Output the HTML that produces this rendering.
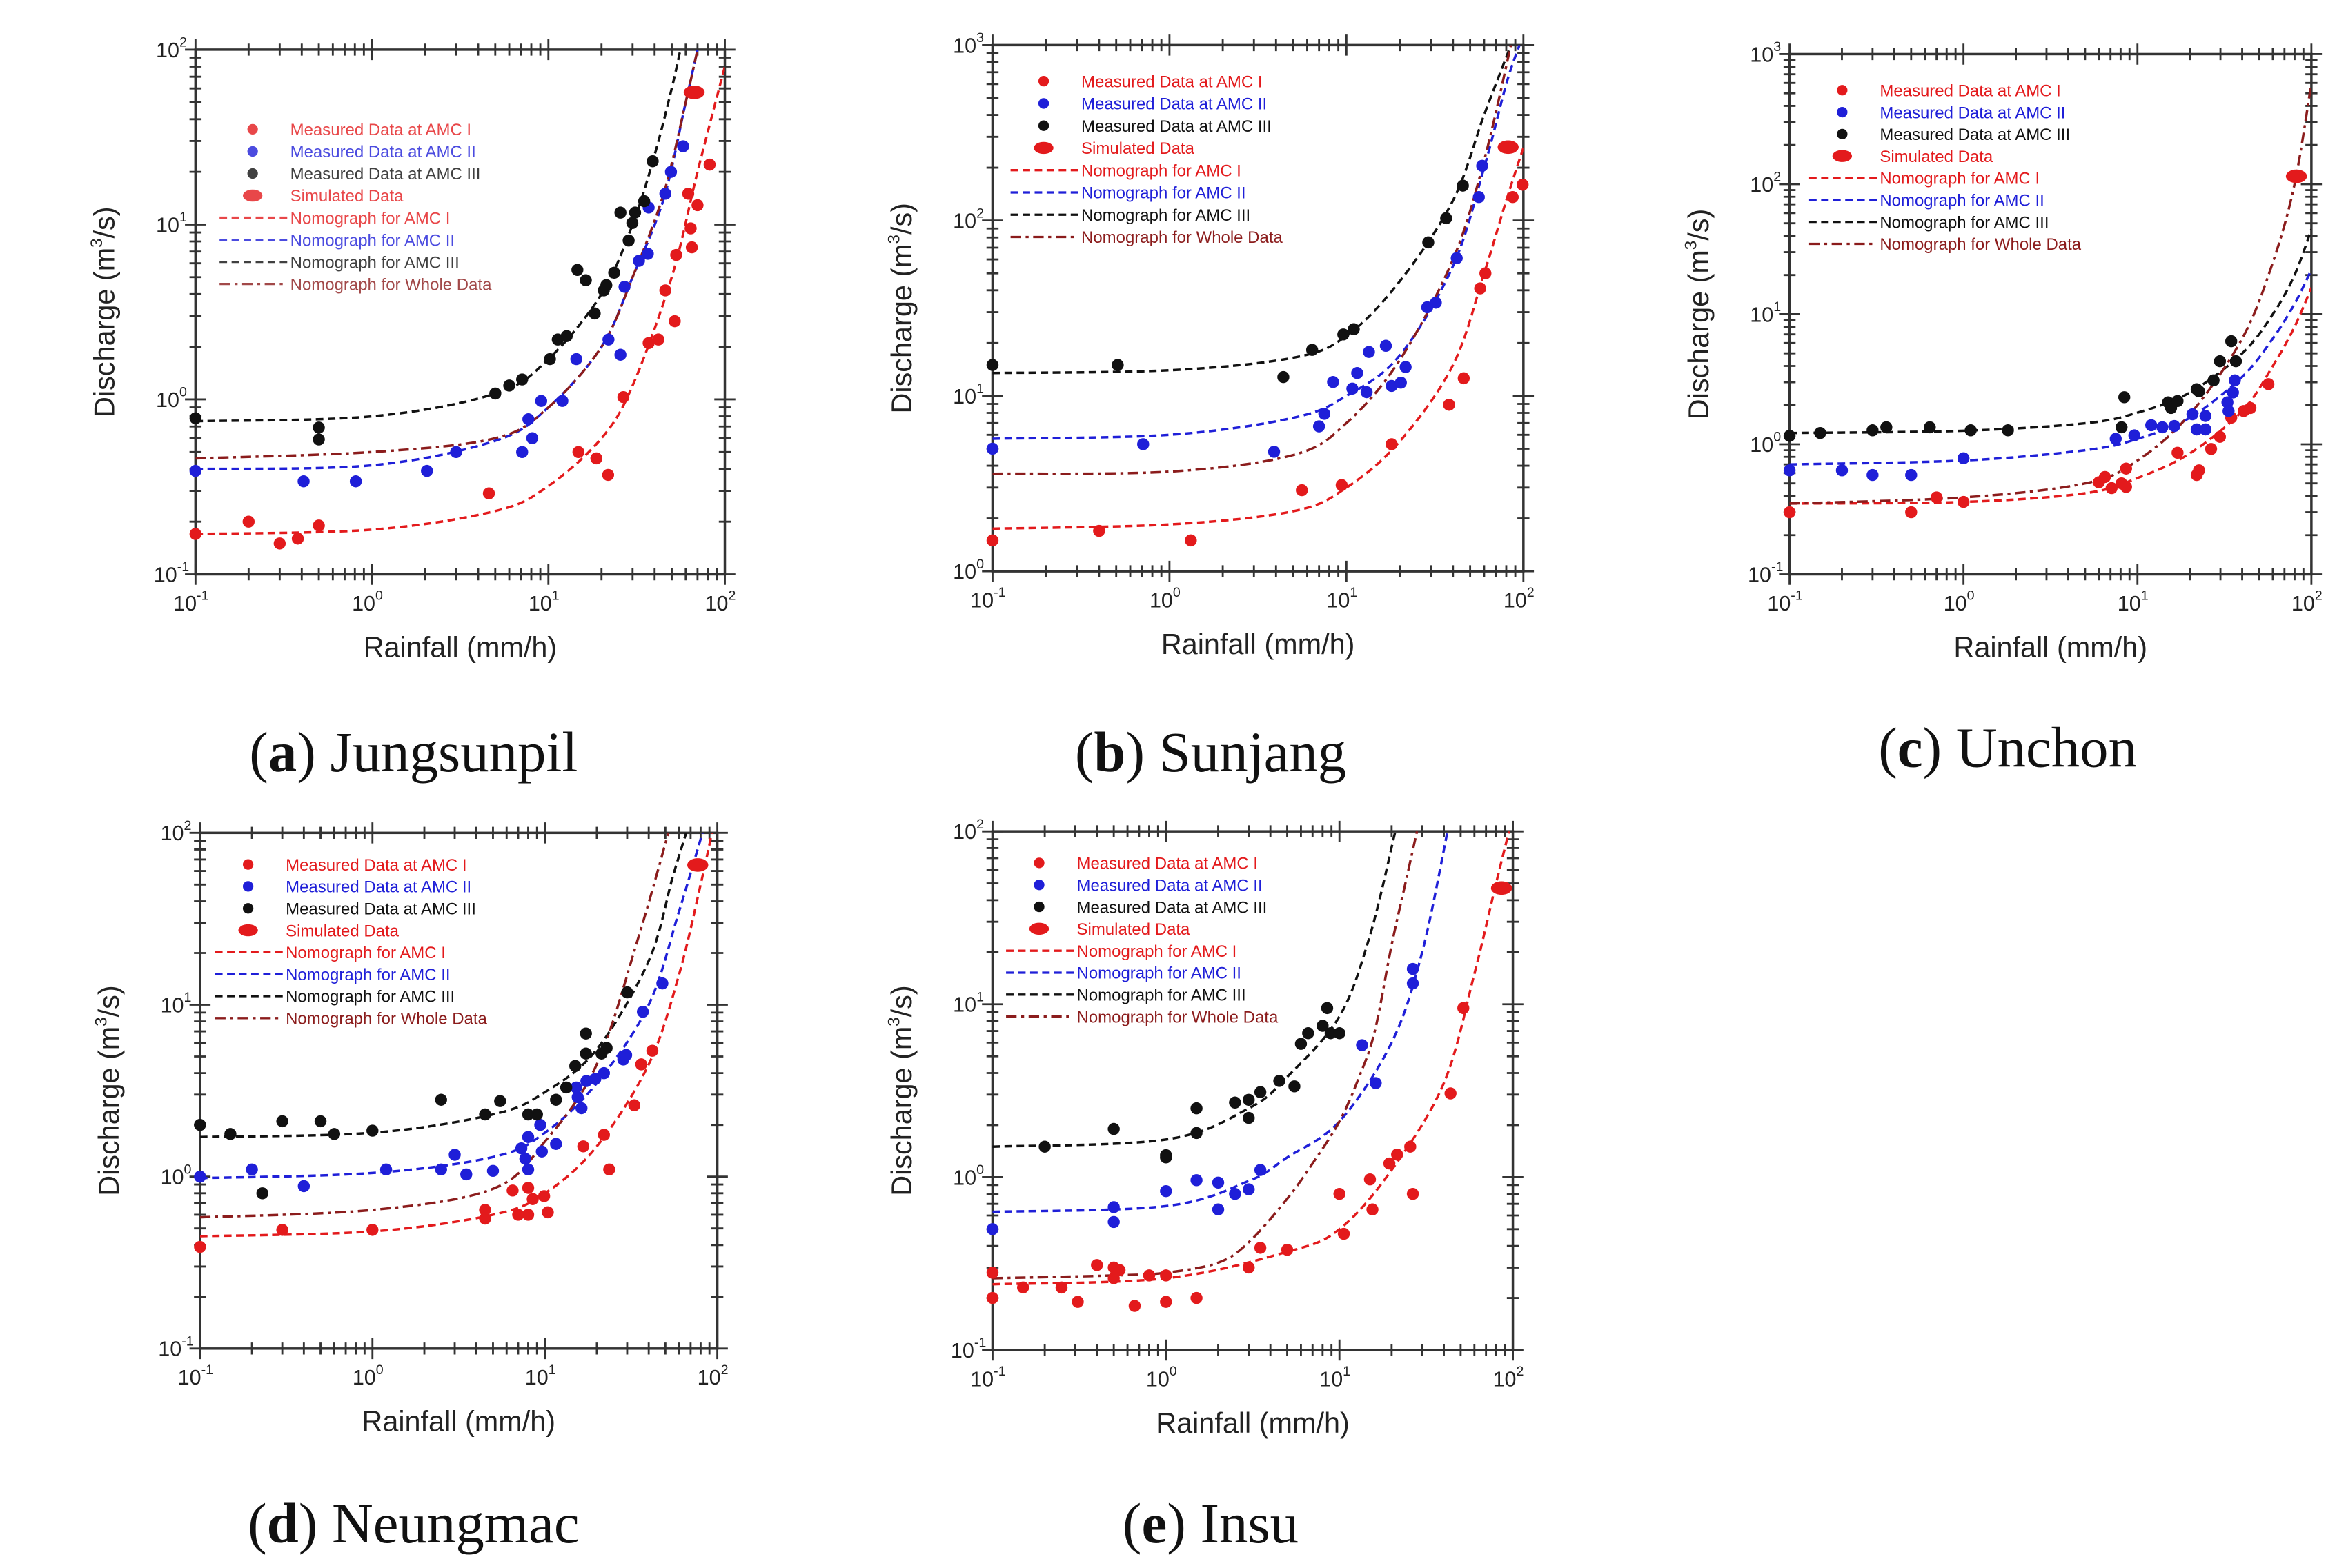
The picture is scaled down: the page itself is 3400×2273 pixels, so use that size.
<!DOCTYPE html>
<html><head><meta charset="utf-8"><style>
html,body{margin:0;padding:0;background:#fff;}
svg{display:block;}
text{font-family:"Liberation Sans",sans-serif;}
.cap{font-family:"Liberation Serif",serif;font-size:38px;fill:#111;}
</style></head><body>
<svg id="fig" xmlns="http://www.w3.org/2000/svg" width="3400" height="2273" viewBox="0 0 1560 1043" preserveAspectRatio="none">
<rect x="0" y="0" width="1560" height="1043" fill="#fff"/>
<text class="cap" x="275" y="513" text-anchor="middle">(<tspan font-weight="bold">a</tspan>) Jungsunpil</text>
<text class="cap" x="805" y="513" text-anchor="middle">(<tspan font-weight="bold">b</tspan>) Sunjang</text>
<text class="cap" x="1335" y="510" text-anchor="middle">(<tspan font-weight="bold">c</tspan>) Unchon</text>
<text class="cap" x="275" y="1026" text-anchor="middle">(<tspan font-weight="bold">d</tspan>) Neungmac</text>
<text class="cap" x="805" y="1026" text-anchor="middle">(<tspan font-weight="bold">e</tspan>) Insu</text>
</svg>
<script>
// ---------- data (rainfall mm/h, discharge m3/s) ----------
const legendLabels = ["Measured Data at AMC I","Measured Data at AMC II","Measured Data at AMC III","Simulated Data","Nomograph for AMC I","Nomograph for AMC II","Nomograph for AMC III","Nomograph for Whole Data"];

const aAmc1 = [[0.1,0.17],[0.2,0.2],[0.3,0.15],[0.38,0.16],[0.5,0.19],[4.6,0.29],[14.8,0.5],[18.7,0.46],[21.8,0.37],[26.6,1.03],[37,2.1],[42,2.2],[46,4.2],[52,2.8],[53,6.7],[62,15],[64,9.5],[65,7.4],[70,12.9],[82,22]];
const aAmc2 = [[0.1,0.39],[0.41,0.34],[0.81,0.34],[2.05,0.39],[3.0,0.5],[7.1,0.5],[8.1,0.6],[7.7,0.77],[9.1,0.98],[12,0.98],[14.4,1.7],[21.9,2.2],[25.6,1.8],[27,4.4],[32.6,6.2],[36.6,6.8],[37,12.5],[46,15],[49.5,20],[58,28]];
const aAmc3 = [[0.1,0.78],[0.5,0.69],[0.5,0.59],[5,1.08],[6,1.2],[7.1,1.3],[10.2,1.7],[11.3,2.2],[12.7,2.3],[14.6,5.5],[16.3,4.8],[18.3,3.1],[20.6,4.2],[21.3,4.5],[23.6,5.3],[25.6,11.7],[29.9,10.2],[31,11.7],[34.9,13.6],[39,23],[28.5,8.1]];
const aSim = [[67,57]];
const aNomo1 = [[0.1,0.17],[1,0.18],[5,0.23],[10,0.32],[20,0.6],[30,1.2],[50,5],[70,20],[100,80]];
const aNomo2 = [[0.1,0.40],[1,0.42],[5,0.58],[10,0.9],[20,2],[30,5],[45,14],[60,50],[70,100]];
const aNomo3 = [[0.1,0.75],[1,0.8],[5,1.08],[10,1.7],[20,4],[30,10],[40,25],[50,60],[56,100]];
const aWhole = [[0.1,0.46],[1,0.5],[5,0.6],[10,0.9],[20,2],[30,5],[45,15],[60,50],[70,100]];

const bAmc1 = [[0.1,1.5],[0.4,1.7],[1.32,1.5],[5.6,2.9],[9.4,3.1],[18,5.3],[38,8.9],[46,12.6],[57,41],[61,50],[87,136],[99,160]];
const bAmc2 = [[0.1,5],[0.71,5.3],[3.9,4.8],[7,6.7],[7.5,7.9],[8.4,12],[10.8,11],[11.5,13.5],[13,10.5],[13.4,17.8],[16.7,19.3],[18,11.4],[20.3,11.9],[21.6,14.6],[28.6,32],[32,34],[42,61],[56,136],[58.5,205]];
const bAmc3 = [[0.1,15],[0.51,15],[4.4,12.8],[6.4,18.3],[9.6,22.4],[11,24],[29,75],[36.6,103],[45.5,158]];
const bSim = [[82,262]];
const bNomo1 = [[0.1,1.75],[1,1.85],[5,2.2],[10,3],[20,5.5],[40,15],[60,50],[80,130],[100,260]];
const bNomo2 = [[0.1,5.7],[1,6],[5,7.5],[10,10],[20,17],[40,55],[60,200],[80,600],[95,1000]];
const bNomo3 = [[0.1,13.5],[1,14],[5,16.5],[10,22],[20,45],[40,130],[60,400],[85,1000]];
const bWhole = [[0.1,3.6],[1,3.7],[5,4.6],[10,7],[20,16],[40,60],[60,220],[85,1000]];

const cAmc1 = [[0.1,0.30],[0.5,0.30],[0.7,0.39],[1.0,0.36],[6,0.51],[6.5,0.56],[7.1,0.46],[8.1,0.50],[8.6,0.47],[8.6,0.65],[17,0.86],[21.9,0.58],[22.6,0.63],[26.5,0.92],[29.8,1.14],[34.6,1.6],[40.8,1.8],[44.6,1.9],[56.6,2.9]];
const cAmc2 = [[0.1,0.63],[0.2,0.63],[0.3,0.58],[0.5,0.58],[1,0.78],[7.5,1.1],[9.6,1.17],[12,1.4],[13.9,1.35],[16.3,1.38],[20.7,1.7],[21.9,1.3],[24.6,1.3],[24.6,1.65],[32.9,2.1],[33.4,1.8],[35.4,2.5],[36.3,3.1]];
const cAmc3 = [[0.1,1.16],[0.15,1.22],[0.3,1.28],[0.36,1.35],[0.64,1.35],[1.1,1.28],[1.8,1.28],[8.1,1.35],[8.4,2.3],[15,2.1],[15.6,1.9],[17,2.15],[21.9,2.65],[22.6,2.55],[27.4,3.1],[29.8,4.35],[34.6,6.2],[36.8,4.35]];
const cSim = [[82,115]];
const cNomo1 = [[0.1,0.35],[1,0.36],[5,0.42],[10,0.55],[20,0.85],[40,1.8],[60,4],[80,8],[100,16]];
const cNomo2 = [[0.1,0.7],[1,0.75],[5,0.9],[10,1.1],[20,1.6],[40,3.3],[60,6.5],[80,12],[100,22]];
const cNomo3 = [[0.1,1.22],[1,1.27],[5,1.45],[10,1.75],[20,2.5],[40,5],[60,10],[80,20],[100,45]];
const cWhole = [[0.1,0.35],[1,0.39],[5,0.5],[10,0.75],[20,1.7],[40,6.5],[60,25],[80,100],[100,600]];

const dAmc1 = [[0.1,0.39],[0.3,0.49],[1,0.49],[4.5,0.64],[4.5,0.57],[6.5,0.83],[7,0.6],[8,0.86],[8,0.6],[8.5,0.74],[9.9,0.77],[10.4,0.62],[16.7,1.5],[22,1.75],[23.6,1.1],[33,2.6],[36.2,4.5],[42,5.4]];
const dAmc2 = [[0.1,1.0],[0.2,1.1],[0.4,0.88],[1.2,1.1],[2.5,1.1],[3,1.34],[3.5,1.03],[5,1.08],[7.3,1.46],[7.7,1.27],[8,1.7],[8,1.1],[9.4,2],[9.6,1.4],[11.6,1.55],[15.2,3.3],[15.5,2.9],[16.3,2.5],[17.4,3.6],[19.6,3.7],[22,4],[28.5,4.8],[29.6,5.1],[37,9.1],[48,13.3]];
const dAmc3 = [[0.1,2],[0.15,1.77],[0.23,0.8],[0.3,2.1],[0.5,2.1],[0.6,1.77],[1,1.85],[2.5,2.8],[4.5,2.3],[5.5,2.75],[8,2.3],[9,2.3],[11.6,2.8],[13.3,3.3],[15,4.4],[17.3,6.8],[17.3,5.2],[21.3,5.2],[22.8,5.6],[30,11.8]];
const dSim = [[77,65]];
const dNomo1 = [[0.1,0.45],[1,0.48],[5,0.6],[10,0.8],[20,1.5],[40,4.5],[60,15],[80,50],[93,100]];
const dNomo2 = [[0.1,0.98],[1,1.05],[5,1.3],[10,1.8],[20,3.5],[40,10],[60,35],[82,100]];
const dNomo3 = [[0.1,1.7],[1,1.8],[5,2.3],[10,3.1],[20,5.5],[40,18],[55,55],[66,100]];
const dWhole = [[0.1,0.58],[1,0.64],[5,0.85],[10,1.6],[20,4.5],[35,25],[52,100]];

const eAmc1 = [[0.1,0.28],[0.1,0.2],[0.15,0.23],[0.25,0.23],[0.31,0.19],[0.4,0.31],[0.5,0.3],[0.54,0.29],[0.5,0.26],[0.66,0.18],[0.8,0.27],[1,0.19],[1,0.27],[1.5,0.2],[3,0.3],[3.5,0.39],[5,0.38],[10,0.8],[10.6,0.47],[15,0.97],[15.5,0.65],[19.4,1.2],[21.5,1.35],[25.6,1.5],[26.5,0.8],[43.7,3.05],[51.8,9.5]];
const eAmc2 = [[0.1,0.5],[0.5,0.67],[0.5,0.55],[1,0.83],[1.5,0.96],[2,0.93],[2,0.65],[2.5,0.8],[3,0.85],[3.5,1.1],[13.5,5.8],[16.2,3.5],[26.5,16],[26.5,13.2]];
const eAmc3 = [[0.2,1.5],[0.5,1.9],[1,1.34],[1,1.3],[1.5,2.5],[1.5,1.8],[2.5,2.7],[3,2.8],[3,2.2],[3.5,3.1],[4.5,3.6],[5.5,3.35],[6,5.9],[6.6,6.8],[8,7.5],[8.5,9.5],[8.9,6.8],[10,6.8]];
const eSim = [[86,47]];
const eNomo1 = [[0.1,0.24],[1,0.26],[5,0.37],[10,0.5],[20,1.1],[40,3.5],[60,15],[80,50],[95,100]];
const eNomo2 = [[0.1,0.63],[1,0.68],[3,0.95],[5,1.3],[10,2.1],[20,6],[30,20],[42,100]];
const eNomo3 = [[0.1,1.5],[1,1.65],[3,2.5],[5,3.8],[10,8.5],[15,25],[21,100]];
const eWhole = [[0.1,0.26],[0.5,0.27],[1,0.28],[2,0.32],[3,0.42],[5,0.75],[7,1.2],[10,2.1],[13,3.8],[16,7],[20,22],[24,50],[28,100]];

// ---------- layout ----------
const panels = [
 {id:'a',L:130,R:482,T:33,B:382,y0:-1,y1:2,lx:168,ly:86,ls:14.7,d:[aAmc1,aAmc2,aAmc3,aSim,aNomo1,aNomo2,aNomo3,aWhole],faded:true},
 {id:'b',L:660,R:1013,T:30,B:380,y0:0,y1:3,lx:694,ly:54,ls:14.8,d:[bAmc1,bAmc2,bAmc3,bSim,bNomo1,bNomo2,bNomo3,bWhole]},
 {id:'c',L:1190,R:1537,T:36,B:382,y0:-1,y1:3,lx:1225,ly:60,ls:14.6,d:[cAmc1,cAmc2,cAmc3,cSim,cNomo1,cNomo2,cNomo3,cWhole]},
 {id:'d',L:133,R:477,T:554,B:897,y0:-1,y1:2,lx:165,ly:575,ls:14.6,d:[dAmc1,dAmc2,dAmc3,dSim,dNomo1,dNomo2,dNomo3,dWhole]},
 {id:'e',L:660,R:1006,T:553,B:898,y0:-1,y1:2,lx:691,ly:574,ls:14.6,d:[eAmc1,eAmc2,eAmc3,eSim,eNomo1,eNomo2,eNomo3,eWhole]}
];
const RED='#e31a1c', BLUE='#1f1fd8', BLK='#111111', BRN='#8b1c1c';
const NS='http://www.w3.org/2000/svg';
const svg=document.getElementById('fig');
function mk(tag,attrs,parent){const e=document.createElementNS(NS,tag);for(const k in attrs)e.setAttribute(k,attrs[k]);(parent||svg).appendChild(e);return e;}

panels.forEach(p=>{
  const g=mk('g',{});
  
  
  const xs=v=>p.L+(Math.log10(v)+1)/3*(p.R-p.L);
  const ys=v=>p.B-(Math.log10(v)-p.y0)/(p.y1-p.y0)*(p.B-p.T);
  const clip=mk('clipPath',{id:'clip'+p.id},g);
  mk('rect',{x:p.L,y:p.T,width:p.R-p.L,height:p.B-p.T},clip);
  const fr=mk('rect',{x:p.L,y:p.T,width:p.R-p.L,height:p.B-p.T,fill:'none',stroke:'#333','stroke-width':1.6},g);
  
  
  let td='';
  for(let e=-1;e<=2;e++){for(let m=1;m<=9;m++){const v=m*Math.pow(10,e);if(v>100.0001)break;const x=xs(v);const L=m===1?7:4;
    td+=`M${x},${p.B-L}V${p.B+L}M${x},${p.T-L}V${p.T+L}`;}}
  for(let e=p.y0;e<=p.y1;e++){for(let m=1;m<=9;m++){const v=m*Math.pow(10,e);if(Math.log10(v)>p.y1+0.0001)break;const y=ys(v);const L=m===1?7:4;
    td+=`M${p.L-L},${y}H${p.L+L}M${p.R-L},${y}H${p.R+L}`;}}
  const tk=mk('path',{d:td,stroke:'#333','stroke-width':1.3,fill:'none'},g);
  
  
  for(let e=-1;e<=2;e++){const t=mk('text',{x:xs(Math.pow(10,e))-3,y:p.B+24,'font-size':14,'text-anchor':'middle',fill:'#222'},g);
    
    
    t.innerHTML=`10<tspan font-size="9" dy="-7">${e}</tspan>`;}
  for(let e=p.y0;e<=p.y1;e++){const t=mk('text',{x:p.L-16,y:ys(Math.pow(10,e))+5,'font-size':14,'text-anchor':'middle',fill:'#222'},g);
    
    
    t.innerHTML=`10<tspan font-size="9" dy="-7">${e}</tspan>`;}
  const xt=mk('text',{x:(p.L+p.R)/2,y:p.B+55,'font-size':19,'text-anchor':'middle',fill:'#222'},g);
  
  
  xt.textContent='Rainfall (mm/h)';
  const cy=(p.T+p.B)/2, cx=p.L-54;
  const yt=mk('text',{x:cx,y:cy,'font-size':19,'text-anchor':'middle',fill:'#222',transform:`rotate(-90 ${cx} ${cy})`},g);
  
  
  yt.innerHTML='Discharge (m<tspan font-size="11" dy="-8">3</tspan><tspan dy="8">/s)</tspan>';
  const curveStyle=[[RED,'5,3'],[BLUE,'5,3'],[BLK,'5,3'],[BRN,'7,3,2,3']];
  const cg=mk('g',{'clip-path':`url(#clip${p.id})`},g);
  [4,5,6,7].forEach((idx,k)=>{
    const pts=p.d[idx].map(q=>[xs(q[0]),ys(q[1])]);
    let d=`M${pts[0][0]},${pts[0][1]}`;
    for(let i=0;i<pts.length-1;i++){const p0=pts[i-1]||pts[i],p1=pts[i],p2=pts[i+1],p3=pts[i+2]||p2;
      const c1=[p1[0]+(p2[0]-p0[0])/6,p1[1]+(p2[1]-p0[1])/6],c2=[p2[0]-(p3[0]-p1[0])/6,p2[1]-(p3[1]-p1[1])/6];
      d+=`C${c1[0]},${c1[1]} ${c2[0]},${c2[1]} ${p2[0]},${p2[1]}`;}
    const pa=mk('path',{d:d,fill:'none',stroke:curveStyle[k][0],'stroke-width':1.6,'stroke-dasharray':curveStyle[k][1]},cg);
    
    
  });
  const pc=[RED,BLUE,BLK];
  [0,1,2].forEach(s=>{p.d[s].forEach(q=>{
    const c=mk('circle',{cx:xs(q[0]),cy:ys(q[1]),r:4,fill:pc[s]},g);
    
    
  });});
  p.d[3].forEach(q=>{
    const c=mk('ellipse',{cx:xs(q[0]),cy:ys(q[1]),rx:7,ry:4.5,fill:RED},g);
    
    
  });
  const lg=mk('g',{opacity:p.faded?0.8:1},g);
  
  
  const tcol=[RED,BLUE,BLK,RED,RED,BLUE,BLK,BRN];
  legendLabels.forEach((lab,i)=>{
    const y=p.ly+i*p.ls;
    if(i<3){mk('circle',{cx:p.lx,cy:y,r:3.5,fill:tcol[i]},lg);}
    else if(i===3){mk('ellipse',{cx:p.lx,cy:y,rx:6.5,ry:4,fill:RED},lg);}
    else{const st=curveStyle[i-4];mk('line',{x1:p.lx-22,y1:y,x2:p.lx+23,y2:y,stroke:st[0],'stroke-width':1.5,'stroke-dasharray':st[1]},lg);}
    const t=mk('text',{x:p.lx+25,y:y+4,'font-size':11,fill:tcol[i]},lg);
    
    
    t.textContent=lab;
  });
});
</script>
</body></html>
